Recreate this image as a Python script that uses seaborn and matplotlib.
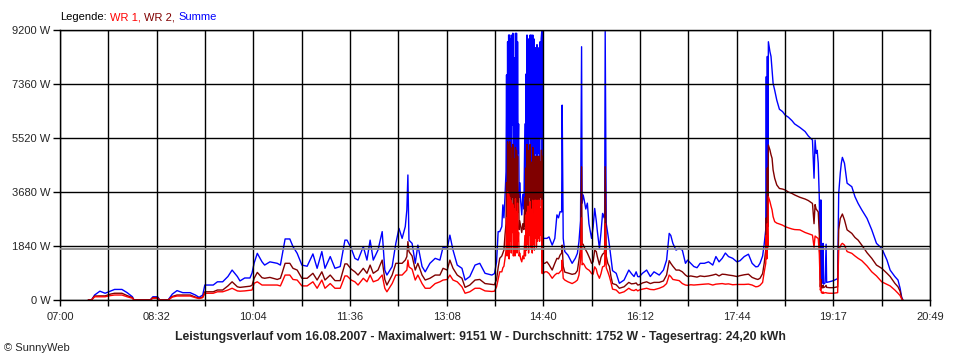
import numpy as np
import pandas as pd
import seaborn as sns
import matplotlib.pyplot as plt
from matplotlib.offsetbox import TextArea, HPacker, AnchoredOffsetbox

minutes_am = [27, 30, 33, 38, 43, 48, 52, 59, 64, 69,
              70.5, 86, 88.5, 93, 95, 103, 107, 111.5, 117, 124,
              129, 132.5, 136, 138, 146, 150, 155, 160, 164, 169,
              171.5, 176, 181, 183, 185, 188, 192.5, 195, 200, 207,
              210, 211.5, 214.5, 219, 222, 226, 230.5, 235.5, 241, 245,
              249.5, 252.5, 257.5, 262, 267, 271.5, 273.5, 277.5, 281, 284,
              289, 292.5, 295.5, 298.5, 303, 307, 309.5, 311.5, 316.5, 320,
              323, 326, 329, 330.5, 331.5, 332.5, 335.5, 338.5, 341, 345,
              348, 352.5, 357.5, 362, 365, 369, 371.5, 374.5, 378.5, 383,
              386, 390.5, 395.5, 400, 405, 411.5]
summe_am = [0, 0, 170, 300, 230, 300, 360, 360, 250, 110,
            0, 0, 110, 110, 0, 0, 200, 320, 250, 250,
            170, 90, 170, 510, 510, 620, 620, 800, 1020, 800,
            650, 750, 750, 920, 1260, 1590, 1300, 1190, 1300, 1250,
            1190, 1480, 2080, 2080, 1820, 1590, 1190, 1150, 1570, 1080,
            1650, 1080, 1480, 1080, 1140, 2040, 2040, 1760, 1420, 1360,
            1820, 1360, 2040, 1360, 1700, 2330, 1020, 850, 1140, 1930,
            2440, 2100, 2500, 3070, 4260, 2040, 1930, 1250, 1870, 1140,
            960, 1250, 1420, 1360, 1800, 1760, 2210, 1700, 1190, 1080,
            680, 800, 1190, 1250, 910, 850]
wr2_am = [0, 0, 136, 140, 140, 200, 230, 230, 150, 80,
          0, 0, 80, 80, 0, 0, 120, 170, 170, 170,
          100, 60, 100, 280, 280, 340, 340, 480, 620, 450,
          430, 450, 470, 500, 740, 940, 760, 740, 770, 700,
          740, 900, 1250, 1250, 1080, 1020, 740, 740, 910, 680,
          960, 680, 850, 660, 660, 1230, 1230, 1050, 960, 850,
          1080, 910, 1190, 910, 1020, 1360, 700, 510, 850, 1250,
          1250, 1250, 1360, 1480, 1990, 1650, 1500, 1020, 1250, 850,
          680, 740, 850, 850, 1080, 1020, 1360, 1080, 850, 740,
          430, 510, 680, 700, 560, 530]
wr1_am = [0, 0, 110, 110, 110, 150, 170, 170, 110, 60,
          0, 0, 60, 60, 0, 0, 100, 136, 136, 136,
          80, 50, 80, 230, 230, 280, 280, 340, 400, 310,
          300, 310, 330, 340, 570, 620, 510, 510, 510, 510,
          480, 600, 850, 850, 700, 680, 480, 480, 620, 400,
          680, 400, 560, 400, 400, 820, 820, 680, 620, 510,
          740, 620, 850, 620, 680, 850, 400, 280, 560, 850,
          850, 850, 960, 1020, 1360, 1130, 1050, 680, 850, 560,
          400, 400, 560, 620, 680, 700, 850, 680, 620, 450,
          230, 280, 400, 400, 310, 290]

minutes_noon = [414, 416, 417.5, 419, 421, 422, 423, 424, 425, 425.5,
                426, 426.5, 427, 427.5, 428, 428.5, 429, 429.5, 430, 430.5,
                431, 431.5, 432, 432.5, 433, 433.5, 434, 434.5, 435, 435.5,
                436, 436.5, 437, 437.5, 438, 439, 440, 441, 442, 443,
                443.5, 444, 444.5, 445, 445.5, 446, 446.5, 447, 447.5, 448,
                448.5, 449, 449.5, 450, 450.5, 451, 451.5, 452, 452.5, 453,
                453.5, 454, 454.5, 455, 455.5, 456, 456.5, 457, 457.5, 458,
                458.5, 459, 459.5, 460, 460.5, 462, 464, 466, 469, 471.5,
                473.5, 475, 476.5, 478, 478.5, 479.5, 481, 484, 488, 491,
                493, 494.5, 496, 497, 497.5, 498.5, 499.5, 501, 502.5, 504,
                505.5, 506.5, 508, 509.5, 511, 512, 514, 515.5, 517, 518.5,
                519, 519.5, 520, 520.5, 522, 523.5, 525, 526.5, 530, 533]
summe_noon = [900, 1300, 2330, 2330, 2500, 3240, 2800, 3500, 4370, 7670,
              3000, 8800, 4000, 9030, 3500, 9030, 4500, 8900, 3200, 9030,
              5960, 9090, 3800, 6500, 8250, 3500, 9090, 4200, 9090, 3800,
              8800, 5000, 6000, 3500, 4000, 3350, 2900, 3600, 3100, 6000,
              3500, 7700, 4000, 9030, 4500, 8900, 3800, 8300, 5500, 9030,
              4200, 9030, 5800, 3800, 9030, 4500, 8900, 3900, 8500, 5000,
              8600, 4000, 8700, 4600, 8500, 5000, 8600, 4500, 8800, 5500,
              8900, 9140, 1990, 9140, 2100, 2100, 2100, 2150, 1870, 2100,
              2900, 2800, 3010, 3000, 6640, 2100, 1650, 1530, 1250, 1420,
              1590, 1990, 2700, 8630, 3300, 3580, 3410, 3100, 3300, 2600,
              2300, 2100, 2500, 3120, 2700, 2350, 1760, 2300, 2950, 2800,
              3000, 9151, 5500, 2600, 2250, 1870, 1420, 1000, 910, 570]
wr2_noon = [520, 700, 1100, 1420, 1500, 1600, 1700, 2200, 2600, 4000,
            2300, 5390, 2600, 5300, 2200, 5390, 3000, 5200, 2400, 4800,
            3500, 5300, 2500, 4200, 4800, 2200, 5200, 2800, 5100, 2600,
            4900, 3000, 3600, 2400, 2700, 2500, 2300, 2600, 2400, 3500,
            2500, 4500, 2700, 5300, 3000, 5100, 2600, 4900, 3500, 5300,
            2800, 4700, 3400, 2600, 5200, 3000, 4500, 2700, 4900, 3300,
            4600, 2800, 4900, 3200, 4400, 3300, 4900, 3200, 4700, 3500,
            5100, 5100, 1300, 4900, 1250, 1250, 1300, 1200, 1020, 1250,
            1420, 1400, 1530, 1600, 1870, 1150, 950, 920, 875, 900,
            1000, 1360, 1750, 4540, 1900, 1900, 1800, 1700, 1600, 1480,
            1350, 1250, 1300, 1700, 1650, 1480, 1200, 1450, 1560, 1600,
            1700, 4540, 3000, 1500, 1250, 1140, 800, 560, 520, 400]
wr1_noon = [300, 450, 700, 960, 960, 1100, 1150, 1400, 1700, 2800,
            1500, 3690, 1700, 3600, 1400, 3500, 2000, 3400, 1600, 3300,
            2300, 3250, 1500, 2800, 3100, 1500, 3450, 1800, 3000, 1600,
            3300, 2000, 2300, 1500, 1600, 1400, 1300, 1500, 1400, 2200,
            1500, 2900, 1700, 3000, 1900, 3200, 1600, 2700, 2200, 3350,
            1800, 3100, 2100, 1600, 3400, 1900, 2900, 1700, 3400, 2100,
            3400, 1800, 3000, 2000, 3400, 2100, 3400, 2000, 3100, 2200,
            3400, 3400, 900, 3400, 900, 960, 960, 900, 740, 850,
            910, 900, 960, 1020, 1360, 740, 680, 620, 560, 620,
            680, 850, 1360, 2800, 1200, 1250, 1200, 1100, 1050, 1020,
            960, 900, 880, 1130, 1050, 900, 740, 900, 1130, 1150,
            1200, 2600, 1900, 1100, 960, 800, 600, 370, 340, 230]

minutes_pm = [537.5, 542, 544.5, 547, 549, 550.5, 552, 555, 559, 562.5,
              566, 571, 575, 578, 580.5, 582, 584, 587, 590, 593,
              596, 598, 601, 604, 607, 610, 614, 618, 622, 625,
              628, 631, 634, 637, 641, 645, 648, 652, 656, 659.5,
              663, 665, 667, 669.5, 671, 672.5, 673, 673.5, 674, 674.5,
              675, 676.5, 677.5, 678.5, 679.5, 681, 683, 685.5, 688.5, 691,
              694, 697.5, 700, 705, 710, 713, 717, 718.5, 719.5, 720.5,
              721.5, 722.5, 723.5, 724.5, 725, 725.5, 726.5, 727, 727.5, 729,
              730, 730.5, 733, 737, 741, 742, 743.5, 744.5, 745.5, 747.5,
              750, 754.5, 757.5, 760.5, 764, 769, 773.5, 778, 783, 788,
              791, 795.5, 798.5, 800.5, 802, 803]
summe_pm = [680, 1020, 900, 800, 960, 800, 790, 910, 1020, 800,
            960, 850, 1020, 1360, 2270, 2200, 1930, 1700, 1760, 1700,
            1250, 1360, 1250, 1140, 1100, 1250, 1250, 1300, 1190, 1480,
            1300, 1420, 1600, 1480, 1420, 1300, 1340, 1480, 1560, 1250,
            1130, 1140, 1250, 1500, 1900, 2400, 7610, 2500, 8300, 3500,
            8800, 8460, 8300, 7840, 7380, 7150, 6810, 6500, 6420, 6300,
            6230, 6110, 6000, 5880, 5740, 5590, 5450, 4150, 5450, 5000,
            5100, 4660, 3500, 680, 3410, 600, 580, 1930, 540, 580,
            1900, 600, 620, 660, 730, 3630, 4320, 4660, 4860, 4660,
            3980, 3860, 3520, 3290, 3070, 2780, 2390, 1930, 1760, 1360,
            1020, 800, 680, 400, 100, 20]
wr2_pm = [450, 600, 550, 560, 580, 510, 520, 580, 620, 560,
          600, 600, 650, 850, 1340, 1250, 1150, 1020, 1020, 960,
          850, 800, 820, 800, 780, 820, 800, 820, 850, 880,
          820, 880, 870, 850, 830, 800, 830, 860, 880, 770,
          720, 700, 740, 900, 1250, 1700, 2800, 1600, 4500, 2500,
          5280, 5110, 4950, 4830, 4430, 4150, 3920, 3800, 3780, 3750,
          3680, 3630, 3580, 3500, 3440, 3390, 3290, 2600, 3250, 3100,
          3050, 3000, 2250, 450, 700, 400, 420, 500, 420, 450,
          500, 430, 420, 420, 450, 2390, 2780, 2850, 2930, 2730,
          2390, 2270, 2130, 2040, 1870, 1610, 1420, 1190, 1080, 910,
          800, 570, 450, 300, 60, 10]
wr1_pm = [280, 400, 340, 320, 360, 310, 340, 370, 400, 360,
          350, 400, 460, 560, 850, 800, 700, 680, 660, 560,
          510, 500, 520, 510, 520, 530, 540, 550, 510, 540,
          550, 560, 540, 550, 520, 530, 530, 530, 540, 510,
          450, 460, 500, 600, 950, 1250, 2200, 1400, 2600, 1800,
          3520, 3350, 3200, 3070, 2840, 2670, 2620, 2590, 2550, 2500,
          2460, 2420, 2400, 2390, 2300, 2260, 2210, 1800, 2180, 2150,
          2120, 2100, 1600, 340, 400, 250, 230, 280, 230, 250,
          250, 240, 230, 230, 250, 1700, 1820, 1900, 1930, 1870,
          1650, 1590, 1500, 1420, 1340, 1160, 960, 820, 620, 530,
          480, 340, 230, 150, 40, 0]

minutes = minutes_am + minutes_noon + minutes_pm
summe = summe_am + summe_noon + summe_pm
wr2 = wr2_am + wr2_noon + wr2_pm
wr1 = wr1_am + wr1_noon + wr1_pm

x_labels = ['07:00', '08:32', '10:04', '11:36', '13:08',
            '14:40', '16:12', '17:44', '19:17', '20:49']
y_values = [0, 1840, 3680, 5520, 7360, 9200]
average = 1752
title = ('Leistungsverlauf vom 16.08.2007 - Maximalwert: 9151 W - '
         'Durchschnitt: 1752 W - Tagesertrag: 24,20 kWh')

sns.set_theme(style="white")
plt.rcParams['font.family'] = ['Liberation Sans', 'DejaVu Sans']

df = pd.DataFrame({'t': minutes, 'Summe': summe, 'WR 2': wr2, 'WR 1': wr1})

fig = plt.figure(figsize=(9.6, 3.6), dpi=100)
ax = fig.add_axes([60/960, 60/360, 870/960, 270/360])

for col, color in [('Summe', '#0000ff'), ('WR 2', '#800000'), ('WR 1', '#ff0000')]:
    sns.lineplot(data=df, x='t', y=col, color=color, lw=1, ax=ax,
                 estimator=None, sort=False, legend=False)

ax.axhline(average, color='#8c8c8c', lw=1.3, zorder=3)

end = 829
ticks = np.linspace(0, end, 19)
labels = []
for i in range(19):
    labels.append(x_labels[i // 2] if i % 2 == 0 else '')
ax.set_xticks(ticks)
ax.set_xticklabels(labels)
ax.set_yticks(y_values)
ax.set_yticklabels([f'{v} W' for v in y_values])
ax.set_xlim(0, end)
ax.set_ylim(0, 9200)
ax.set_xlabel('')
ax.set_ylabel('')
ax.set_axisbelow(False)
ax.grid(True, color='black', lw=1)
for s in ax.spines.values():
    s.set_color('black')
    s.set_linewidth(1)
ax.tick_params(axis='y', length=5, width=1, color='black', pad=2,
               labelsize=8, left=True)
ax.tick_params(axis='x', length=4, width=1, color='black', pad=5,
               labelsize=8, bottom=True)

fig.text(480/960, 1 - 337/360, title, ha='center', va='center',
         fontsize=8.8, fontweight='bold')
fig.text(4/960, 1 - 348/360, '© SunnyWeb', ha='left', va='center', fontsize=8)

parts = [('Legende:', 'black'), ('WR 1,', '#ff0000'), ('WR 2,', '#800000'), ('Summe', '#0000ff')]
box = HPacker(children=[TextArea(t, textprops=dict(color=c, size=8)) for t, c in parts],
              sep=2.5, pad=0, align='baseline')
leg = AnchoredOffsetbox(loc='center left', child=box, frameon=False, pad=0, borderpad=0,
                        bbox_to_anchor=(60/960, 1 - 17/360), bbox_transform=fig.transFigure)
fig.add_artist(leg)

fig.savefig('out.png', dpi=100)
